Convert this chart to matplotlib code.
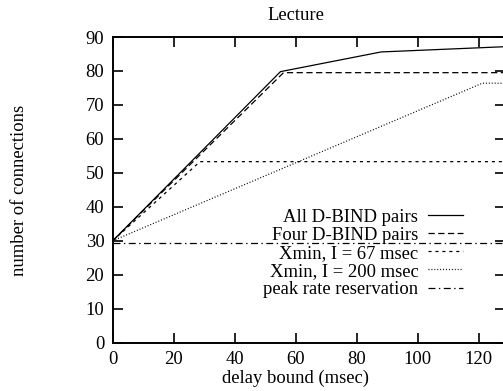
import matplotlib
matplotlib.use('Agg')
import matplotlib.pyplot as plt

plt.rcParams['font.family'] = ['Liberation Serif', 'DejaVu Serif']
plt.rcParams['lines.scale_dashes'] = False

# data
all_x = [0, 55, 88, 130]
all_y = [30, 79.8, 85.6, 87.2]
four_x = [0, 56, 130]
four_y = [30, 79.5, 79.5]
x67_x = [0, 28.6, 130]
x67_y = [30, 53.3, 53.3]
x200_x = [0, 121.2, 130]
x200_y = [30, 76.4, 76.4]
peak_x = [0, 130]
peak_y = [29.4, 29.4]

labels = ['All D-BIND pairs', 'Four D-BIND pairs', 'Xmin, I = 67 msec',
          'Xmin, I = 200 msec', 'peak rate reservation']
xticks = [0, 20, 40, 60, 80, 100, 120]
yticks = [0, 10, 20, 30, 40, 50, 60, 70, 80, 90]

W, H = 503, 391
fs = 13.4
fig = plt.figure(figsize=(W / 100, H / 100), dpi=100)
left, right, top, bottom = 112.7, 505, 37, 342.7
ax = fig.add_axes([left / W, 1 - bottom / H, (right - left) / W, (bottom - top) / H])

lw = 0.9
ax.plot(all_x, all_y, color='black', lw=lw, label=labels[0])
ax.plot(four_x, four_y, color='black', lw=lw, ls=(0, (4.5, 2.5)), label=labels[1])
ax.plot(x67_x, x67_y, color='black', lw=lw, ls=(0, (2.2, 2.8)), label=labels[2])
ax.plot(x200_x, x200_y, color='black', lw=lw, ls=(0, (0.7, 1.4)), label=labels[3])
ax.plot(peak_x, peak_y, color='black', lw=lw, ls=(0, (5, 2.5, 1, 2.5)), label=labels[4])

ax.set_xlim(0, (right - left) / 3.05)
ax.set_ylim(0, 90)
ax.set_xticks(xticks)
ax.set_yticks(yticks)
ax.tick_params(direction='in', length=7, width=1.2, top=True, right=True,
               labelsize=fs, pad=6)
for s in ax.spines.values():
    s.set_linewidth(1.4)

leg = ax.legend(loc='upper right', bbox_to_anchor=((463 - left) / (right - left), 1 - (208.5 - top) / (bottom - top)),
                frameon=False, markerfirst=False, fontsize=fs, handlelength=1.9,
                handletextpad=0.5, labelspacing=0.06, borderpad=0, borderaxespad=0)

fig.text(296 / W, 1 - 15 / H, 'Lecture', ha='center', va='center', fontsize=fs)
fig.text(296 / W, 1 - 378 / H, 'delay bound (msec)', ha='center', va='center', fontsize=fs)
fig.text(20 / W, 1 - 190 / H, 'number of connections', ha='center', va='center',
         rotation=90, fontsize=fs)

fig.savefig('out.png', dpi=100)
